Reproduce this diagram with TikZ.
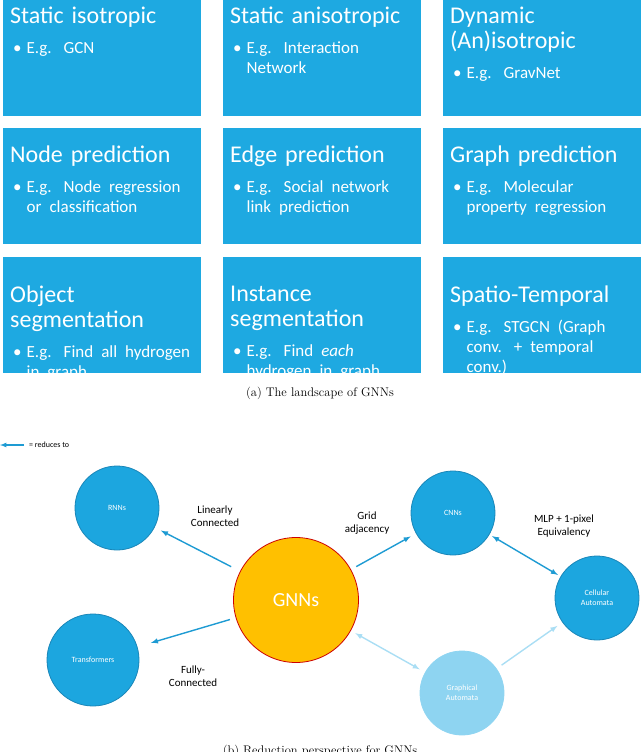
\documentclass[tikz,border=0pt]{standalone}
\usepackage{fontspec}
\newfontfamily\carl{Carlito}
\definecolor{boxb}{HTML}{1EA9E1}
\definecolor{circb}{HTML}{1CA6DF}
\definecolor{circd}{HTML}{1A86B8}
\definecolor{gold}{HTML}{FFC000}
\definecolor{lightb}{HTML}{8ED4F1}
\definecolor{lighta}{HTML}{AADEF4}
\definecolor{arr}{HTML}{1E9BD3}
\tikzset{
 box/.style={fill=boxb,draw=none,minimum width=198,minimum height=116,anchor=north west,inner sep=0},
 btxt/.style={anchor=north west,text=white,font=\carl\fontsize{24}{25}\selectfont,align=left,inner sep=0,text width=195},
 circ/.style={circle,fill=circb,draw=circd,line width=0.8,minimum size=84,text=white,font=\carl\fontsize{8}{10}\selectfont,align=center},
 redarr/.style={-latex,draw=arr,line width=1.4,shorten >=3,shorten <=3},
 lbl/.style={font=\carl\fontsize{11}{13}\selectfont,align=center}
}
\newcommand{\bul}[1]{\par\vspace{5pt}{\fontsize{17}{20}\selectfont\hspace*{3pt}\textbullet\hspace{5pt}\parbox[t]{168pt}{\raggedright #1}}}
\begin{document}
\begin{tikzpicture}[x=1pt,y=-1pt]
\useasboundingbox (0,0) rectangle (640,752);
\foreach \c/\x in {0/3,1/223,2/443}{
 \foreach \r/\y in {0/0,1/128,2/257}{
  \node[box] (b\c\r) at (\x,\y) {};
 }}
\node[btxt] (t00) at (10,7) {Static isotropic\bul{E.g. GCN}};
\node[btxt] (t10) at (230,7) {Static anisotropic\bul{E.g. Interaction Network}};
\node[btxt] (t20) at (450,7) {Dynamic\\(An)isotropic\bul{E.g. GravNet}};
\node[btxt] (t01) at (10,146) {Node prediction\bul{E.g. Node regression or classification}};
\node[btxt] (t11) at (230,146) {Edge prediction\bul{E.g. Social network link prediction}};
\node[btxt] (t21) at (450,146) {Graph prediction\bul{E.g. Molecular property regression}};
\node[btxt] (t02) at (10,286) {Object\\segmentation\bul{E.g. Find all hydrogen in graph}};
\node[btxt] (t12) at (230,286) {Instance\\segmentation\bul{E.g. Find \textit{each} hydrogen in graph}};
\node[btxt] (t22) at (450,286) {Spatio-Temporal\bul{E.g. STGCN (Graph conv. + temporal conv.)}};
\node[font=\fontsize{12.5}{14}\selectfont] (capa) at (320,393) {(a) The landscape of GNNs};
\node[font=\fontsize{12.5}{14}\selectfont,anchor=north] (capb) at (320,742) {(b) Reduction perspective for GNNs};
% legend
\coordinate (l1) at (0,445); \coordinate (l2) at (24,445);
\draw[-latex,draw=arr,line width=1.2] (l2) -- (l1);
\node[anchor=west,font=\carl\fontsize{8}{10}\selectfont,inner sep=0] (leg) at (29,445) {= reduces to};
% circles
\node[circ] (rnn) at (117,508) {RNNs};
\node[circ] (cnn) at (453,513) {CNNs};
\node[circ,minimum size=92] (trf) at (93,660) {Transformers};
\node[circ] (cell) at (597,598) {Cellular\\Automata};
\node[circ,fill=lightb,draw=lightb] (gra) at (462,693) {Graphical\\Automata};
\node[circle,fill=gold,draw=red!80!black,line width=0.8,minimum size=125,text=white,font=\carl\fontsize{20}{22}\selectfont] (gnn) at (296,600) {GNNs};
% arrows
\draw[redarr,shorten <=10,shorten >=7] (gnn) -- (rnn);
\draw[redarr,shorten <=6,shorten >=6] (gnn) -- (cnn);
\draw[redarr,shorten <=6,shorten >=14] (gnn) -- (trf);
\draw[redarr,latex-latex,shorten <=3,shorten >=3] (cnn) -- (cell);
\draw[redarr,latex-latex,draw=lighta,shorten <=5,shorten >=6] (gnn) -- (gra);
\draw[redarr,draw=lighta,shorten <=6,shorten >=6] (gra) -- (cell);
\node[lbl] (ll) at (215,516) {Linearly\\Connected};
\node[lbl] (lg) at (367,523) {Grid\\adjacency};
\node[lbl] (lm) at (564,526) {MLP + 1-pixel\\Equivalency};
\node[lbl] (lf) at (193,676) {Fully-\\Connected};
\end{tikzpicture}
\end{document}
